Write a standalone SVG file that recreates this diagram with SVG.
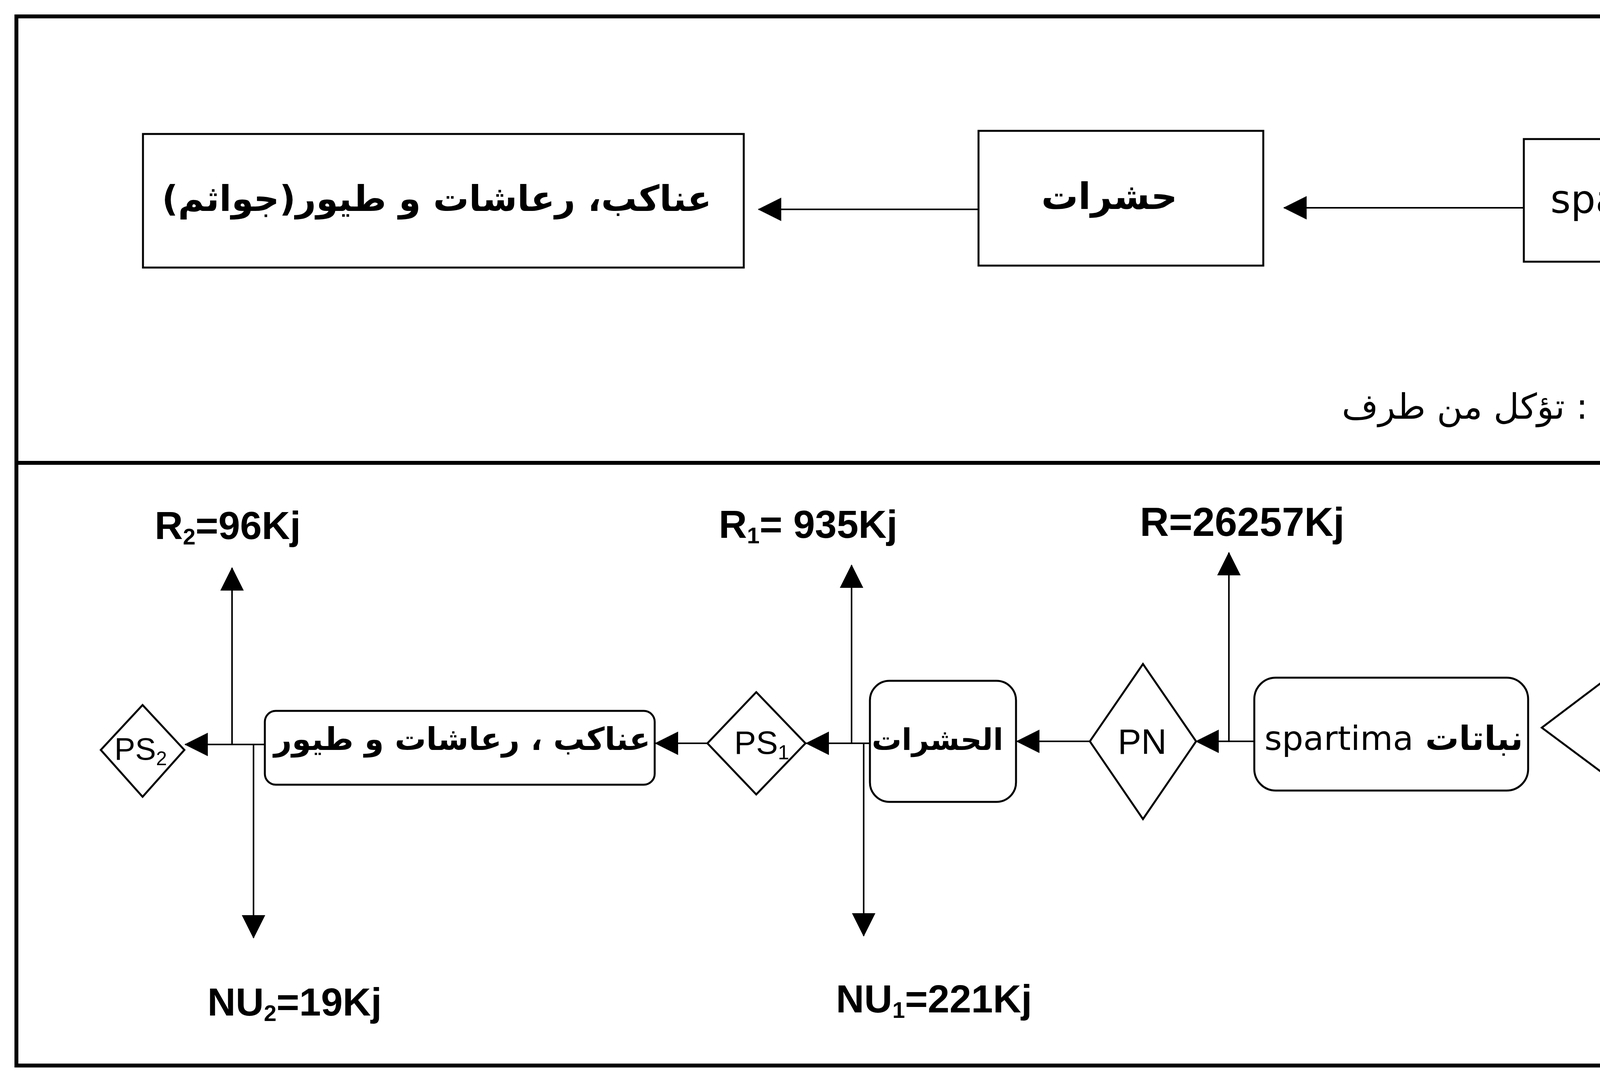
<svg xmlns="http://www.w3.org/2000/svg" width="5366" height="2742" viewBox="0 0 5366 2742">
<style>
.frame{fill:none;stroke:#000;stroke-width:10}
.lbl{fill:none;stroke:#000;stroke-width:8}
.box{fill:#fff;stroke:#000;stroke-width:5}
.con{fill:none;stroke:#000;stroke-width:4}
.ar{font-family:"DejaVu Sans",sans-serif;font-weight:bold;fill:#000}
.arn{font-family:"DejaVu Sans",sans-serif;font-weight:normal;fill:#000}
.la{font-family:"Liberation Sans",Arial,sans-serif;font-weight:bold;fill:#000}
.lan{font-family:"Liberation Sans",Arial,sans-serif;font-weight:normal;fill:#000}
.rg{font-weight:normal}
</style>
<defs>
<marker id="ah" markerUnits="userSpaceOnUse" markerWidth="60" markerHeight="60" refX="58" refY="30" orient="auto">
<path d="M0,0 L60,30 L0,60 Z" fill="#000"/>
</marker>
</defs>
<rect width="5366" height="2742" fill="#fff"/>

<g id="frame">
<rect class="frame" x="42" y="42" width="5306" height="2686"/>
<line class="frame" x1="42" y1="1185" x2="5348" y2="1185"/>
</g>

<g id="label-doc1">
<polyline class="lbl" points="4660,42 4660,223 5348,223"/>
<text class="ar" x="4961" y="163" font-size="90" text-anchor="middle" direction="rtl">الوثيقة1</text>
</g>

<g id="d1-plants">
<rect class="box" x="3901" y="356" width="907" height="314"/>
<text class="ar" x="4354" y="545" font-size="100" text-anchor="middle" direction="rtl">نباتات <tspan class="rg">spartima</tspan></text>
</g>
<g id="d1-insects">
<rect class="box" x="2505" y="335" width="729" height="345"/>
<text class="ar" x="2840" y="535" font-size="94" text-anchor="middle" direction="rtl">حشرات</text>
</g>
<g id="d1-predators">
<rect class="box" x="366" y="343" width="1538" height="342"/>
<text class="ar" x="1118" y="540" font-size="91" text-anchor="middle" direction="rtl">عناكب، رعاشات و طيور(جواثم)</text>
</g>

<g id="legend">
<text class="arn" x="4065" y="1072" font-size="90" text-anchor="start" direction="rtl">: تؤكل من طرف</text>
</g>

<g id="label-doc2">
<polyline class="lbl" points="4655,1185 4655,1400 5348,1400"/>
<text class="ar" x="4961" y="1358" font-size="90" text-anchor="middle" direction="rtl">الوثيقة2</text>
</g>

<g id="d2-light">
<polygon class="box" points="3947,1863 4279,1612 4279,1732 5254,1732 5254,1984 4281,1984 4281,2112"/>
<text class="ar" x="4776" y="1893" font-size="76" text-anchor="middle" direction="rtl">الطاقة الضوئية الممتصة</text>
<text class="la" x="4950" y="2067" font-size="94" text-anchor="middle">A=27530Kj</text>
</g>

<g id="d2-plants">
<rect class="box" x="3211" y="1735" width="701" height="289" rx="55" ry="55"/>
<text class="ar" x="3568" y="1920" font-size="86" text-anchor="middle" direction="rtl">نباتات <tspan class="rg">spartima</tspan></text>
</g>
<g id="d2-PN">
<polygon class="box" points="2926,1700 3062,1898 2926,2097 2790,1898"/>
<text class="lan" x="2924" y="1930" font-size="90" text-anchor="middle">PN</text>
</g>
<g id="d2-insects">
<rect class="box" x="2227" y="1743" width="374" height="310" rx="50" ry="50"/>
<text class="ar" x="2400" y="1920" font-size="76" text-anchor="middle" direction="rtl">الحشرات</text>
</g>
<g id="d2-PS1">
<polygon class="box" points="1936,1772 2062,1903 1936,2034 1811,1903"/>
<text class="lan" x="1950" y="1930" font-size="84" text-anchor="middle">PS<tspan font-size="52" dy="14">1</tspan></text>
</g>
<g id="d2-predators">
<rect class="box" x="678" y="1820" width="998" height="189" rx="28" ry="28"/>
<text class="ar" x="1183" y="1920" font-size="80" text-anchor="middle" direction="rtl">عناكب ، رعاشات و طيور</text>
</g>
<g id="d2-PS2">
<polygon class="box" points="365,1805 472,1920 365,2040 258,1920"/>
<text class="lan" x="360" y="1945" font-size="80" text-anchor="middle">PS<tspan font-size="50" dy="14">2</tspan></text>
</g>

<g id="d2-values">
<text class="la" x="396" y="1380" font-size="100">R<tspan font-size="58" dy="14">2</tspan><tspan dy="-14">=96Kj</tspan></text>
<text class="la" x="1840" y="1377" font-size="100">R<tspan font-size="58" dy="14">1</tspan><tspan dy="-14">= 935Kj</tspan></text>
<text class="la" x="2918" y="1372" font-size="103">R=26257Kj</text>
<text class="la" x="531" y="2600" font-size="100">NU<tspan font-size="58" dy="14">2</tspan><tspan dy="-14">=19Kj</tspan></text>
<text class="la" x="2140" y="2592" font-size="100">NU<tspan font-size="58" dy="14">1</tspan><tspan dy="-14">=221Kj</tspan></text>
</g>

<g id="connectors">
<line class="con" x1="3901" y1="532" x2="3287" y2="532" marker-end="url(#ah)"/>
<line class="con" x1="2505" y1="536" x2="1942" y2="536" marker-end="url(#ah)"/>
<line class="con" x1="4613" y1="1055" x2="4113" y2="1055" marker-end="url(#ah)"/>

<line class="con" x1="3211" y1="1898" x2="3062" y2="1898" marker-end="url(#ah)"/>
<line class="con" x1="3146" y1="1898" x2="3146" y2="1415" marker-end="url(#ah)"/>
<line class="con" x1="2790" y1="1898" x2="2603" y2="1898" marker-end="url(#ah)"/>
<line class="con" x1="2227" y1="1903" x2="2064" y2="1903" marker-end="url(#ah)"/>
<line class="con" x1="2180" y1="1903" x2="2180" y2="1447" marker-end="url(#ah)"/>
<line class="con" x1="2211" y1="1903" x2="2211" y2="2396" marker-end="url(#ah)"/>
<line class="con" x1="1811" y1="1903" x2="1678" y2="1903" marker-end="url(#ah)"/>
<line class="con" x1="678" y1="1906" x2="474" y2="1906" marker-end="url(#ah)"/>
<line class="con" x1="594" y1="1906" x2="594" y2="1454" marker-end="url(#ah)"/>
<line class="con" x1="649" y1="1906" x2="649" y2="2401" marker-end="url(#ah)"/>
</g>
</svg>
